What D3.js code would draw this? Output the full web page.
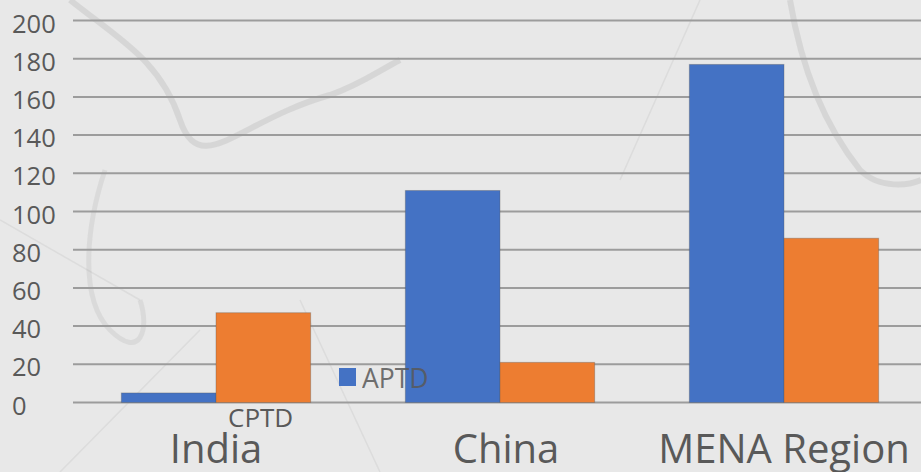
<!DOCTYPE html>
<html>
<head>
<meta charset="utf-8">
<script src="https://cdn.jsdelivr.net/npm/d3@7"></script>
<style>
  html, body { margin: 0; padding: 0; background: #e8e8e8; }
  svg { display: block; }
</style>
</head>
<body>
<svg id="chart" width="921" height="472"></svg>
<script>
// ---- data ----
const categories = ["India", "China", "MENA Region"];
const seriesNames = ["APTD", "CPTD"];
const aptdValues = [5, 111, 177];
const cptdValues = [47, 21, 86];
const yTicks = [0, 20, 40, 60, 80, 100, 120, 140, 160, 180, 200];

const colors = { APTD: "#4472C4", CPTD: "#ED7D31" };
const textColor = "#595959";
const font = "'Open Sans', 'DejaVu Sans', sans-serif";

const W = 921, H = 472;
const svg = d3.select("#chart");

// background
svg.append("rect").attr("width", W).attr("height", H).attr("fill", "#e8e8e8");
const deco = svg.append("g").attr("fill", "none").attr("stroke", "#7a7a7a");
// faint decorative ribbon strokes (background art)
deco.append("path").attr("d", "M70,0 C120,40 160,60 180,120 C200,180 240,120 330,95 C360,85 380,70 400,60")
  .attr("stroke-width", 6).attr("opacity", 0.16);
deco.append("path").attr("d", "M790,0 C800,60 820,120 860,170 C880,190 910,185 921,180")
  .attr("stroke-width", 6).attr("opacity", 0.16);
deco.append("path").attr("d", "M105,170 C85,230 80,300 110,330 C140,360 150,330 140,300")
  .attr("stroke-width", 5).attr("opacity", 0.12);
deco.append("path").attr("d", "M0,220 L140,300 M60,472 L200,330 M380,472 L300,300 M700,0 L620,180")
  .attr("stroke-width", 1.5).attr("opacity", 0.1);

const data = categories.map((c, i) => ({ cat: c, APTD: aptdValues[i], CPTD: cptdValues[i] }));

const y = d3.scaleLinear().domain([0, 200]).range([402.5, 20.5]);
const x0 = d3.scaleBand().domain(categories).range([74, 926]).paddingInner(1 / 3).paddingOuter(1 / 6);
const x1 = d3.scaleBand().domain(seriesNames).range([0, x0.bandwidth()]);

// gridlines
svg.append("g").selectAll("line").data(yTicks).join("line")
  .attr("x1", 73).attr("x2", W)
  .attr("y1", d => y(d)).attr("y2", d => y(d))
  .attr("stroke", "#9c9c9c").attr("stroke-width", 2);

// y tick labels (left aligned)
svg.append("g").selectAll("text").data(yTicks).join("text")
  .attr("x", 12).attr("y", d => y(d) + 2)
  .attr("dominant-baseline", "central")
  .attr("font-family", font).attr("font-size", 25.5)
  .attr("fill", textColor)
  .text(d => d);

// bars
const groups = svg.append("g").selectAll("g").data(data).join("g")
  .attr("transform", d => `translate(${x0(d.cat)},0)`);
groups.selectAll("rect").data(d => seriesNames.map(s => ({ s, v: d[s] }))).join("rect")
  .attr("x", d => x1(d.s))
  .attr("width", x1.bandwidth())
  .attr("y", d => y(d.v))
  .attr("height", d => y(0) - y(d.v))
  .attr("fill", d => colors[d.s])
  .attr("stroke", "rgba(90,90,90,0.35)").attr("stroke-width", 1);

// category labels
svg.append("g").selectAll("text").data(categories).join("text")
  .attr("x", d => x0(d) + x0.bandwidth() / 2 + (d === "China" ? 6 : 0))
  .attr("y", 463)
  .attr("text-anchor", "middle")
  .attr("font-family", font).attr("font-size", 40)
  .attr("fill", textColor)
  .text(d => d);

// legend (as placed in the reference)
const legAPTD = svg.append("g");
legAPTD.append("rect").attr("x", 339).attr("y", 368).attr("width", 17).attr("height", 18).attr("fill", colors.APTD);
legAPTD.append("text").attr("x", 362).attr("y", 388)
  .attr("font-family", font).attr("font-size", 26.5)
  .attr("fill", textColor).attr("opacity", 0.85).text(seriesNames[0]);
svg.append("text").attr("x", 228).attr("y", 427)
  .attr("font-family", font).attr("font-size", 26)
  .attr("fill", textColor).text(seriesNames[1]);
</script>
</body>
</html>
